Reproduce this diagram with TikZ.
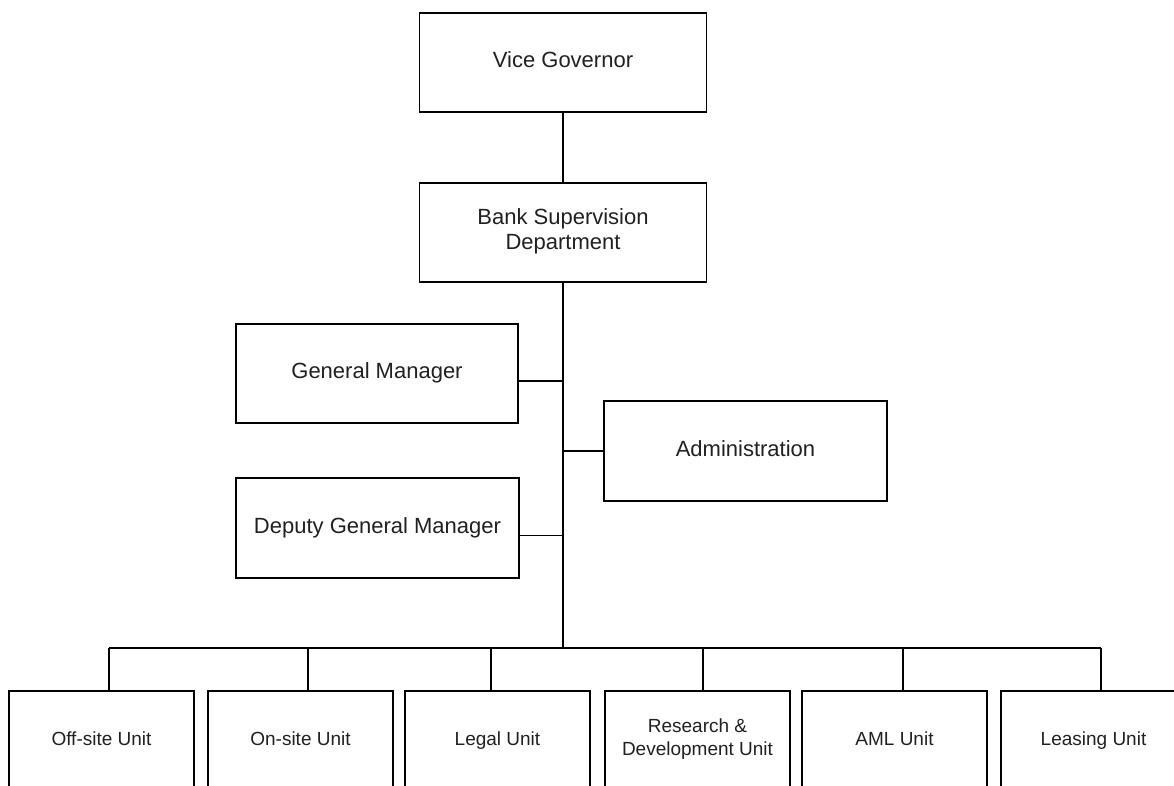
\documentclass[tikz,border=0pt]{standalone}
\usepackage{fontspec}
\setmainfont{Liberation Sans}
\newlength{\du}
\setlength{\du}{1pt}
\definecolor{dialinecolor}{rgb}{0.000000, 0.000000, 0.000000}
\definecolor{diatextcolor}{rgb}{0.130000, 0.130000, 0.130000}
\tikzset{
  orgbox/.style={draw=dialinecolor, line width=1.3\du, fill=white, text=diatextcolor,
    minimum width=287\du, minimum height=99\du, inner sep=0pt, align=center,
    font=\fontsize{22}{25}\selectfont, execute at begin node=\strut},
  unitbox/.style={orgbox, minimum width=185\du, minimum height=100\du,
    font=\fontsize{19}{23}\selectfont},
  orgline/.style={draw=dialinecolor, line width=1.3\du}
}
\begin{document}
\begin{tikzpicture}
\pgftransformxscale{1.000000}
\pgftransformyscale{-1.000000}
\clip (0\du,0\du) rectangle (1174\du,785\du);
% top of the chart
\node[orgbox] (vg) at (563.000000\du,62.500000\du){Vice Governor};
\node[orgbox] (bsd) at (563.000000\du,232.500000\du){Bank Supervision\\Department};
% staff boxes beside the trunk
\node[orgbox, minimum width=282\du] (gm) at (377.000000\du,373.500000\du){General Manager};
\node[orgbox, minimum width=283\du, minimum height=100\du] (admin) at (745.500000\du,451.000000\du){Administration};
\node[orgbox, minimum width=283\du, minimum height=100\du] (dgm) at (377.500000\du,528.000000\du){Deputy General Manager};
% units, cut at the foot of the page
\node[unitbox] (u1) at (101.500000\du,741.000000\du){Off-site Unit};
\node[unitbox] (u2) at (300.500000\du,741.000000\du){On-site Unit};
\node[unitbox] (u3) at (497.500000\du,741.000000\du){Legal Unit};
\node[unitbox] (u4) at (697.500000\du,741.000000\du){Research \&\\Development Unit};
\node[unitbox] (u5) at (894.500000\du,741.000000\du){AML Unit};
\node[unitbox] (u6) at (1093.500000\du,741.000000\du){Leasing Unit};
% junctions
\coordinate (gmj) at (563.000000\du,381.000000\du);
\coordinate (adj) at (563.000000\du,451.000000\du);
\coordinate (dgj) at (563.000000\du,535.500000\du);
\coordinate (busc) at (563.000000\du,648.000000\du);
\coordinate (b1) at (109.000000\du,648.000000\du);
\coordinate (b2) at (308.000000\du,648.000000\du);
\coordinate (b3) at (491.000000\du,648.000000\du);
\coordinate (b4) at (703.000000\du,648.000000\du);
\coordinate (b5) at (903.000000\du,648.000000\du);
\coordinate (b6) at (1101.000000\du,648.000000\du);
\draw[orgline] (vg.south)--(bsd.north);
\draw[orgline] (bsd.south)--(busc);
\draw[orgline] (gm.east |- gmj)--(gmj);
\draw[orgline] (adj)--(admin.west |- adj);
\draw[orgline] (dgm.east |- dgj)--(dgj);
\draw[orgline] (b1)--(b6);
\foreach \i in {1,...,6}
  \draw[orgline] (b\i)--(b\i |- u\i.north);
\end{tikzpicture}
\end{document}
